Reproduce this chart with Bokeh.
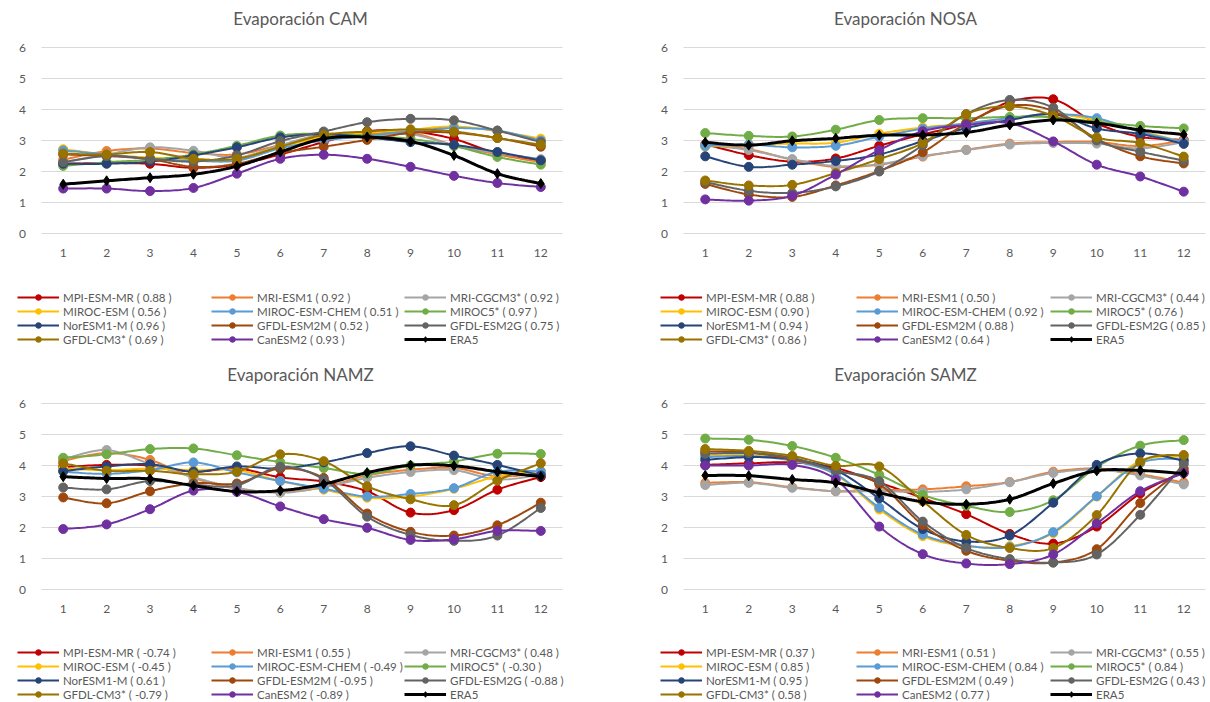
import numpy as np
from bokeh.plotting import figure
from bokeh.layouts import column, row
from bokeh.models import Legend, LegendItem, Range1d, Label
from bokeh.core.properties import value
from bokeh.embed import file_html
from bokeh.resources import INLINE

months = list(range(1, 13))
y_ticks = [0, 1, 2, 3, 4, 5, 6]

models = ["MPI-ESM-MR", "MRI-ESM1", "MRI-CGCM3*", "MIROC-ESM", "MIROC-ESM-CHEM", "MIROC5*",
          "NorESM1-M", "GFDL-ESM2M", "GFDL-ESM2G", "GFDL-CM3*", "CanESM2"]
model_colors = ["#C00000", "#ED7D31", "#A5A5A5", "#FFC000", "#5B9BD5", "#70AD47",
                "#264478", "#9E480E", "#636363", "#997300", "#7030A0"]

# Monthly evaporation per model (rows follow `models`), ERA5 reference and correlations
cam_models = [
    [2.25, 2.27, 2.25, 2.12, 2.22, 2.55, 2.95, 3.30, 3.30, 3.05, 2.58, 2.35],
    [2.38, 2.66, 2.74, 2.60, 2.55, 2.85, 3.10, 3.20, 3.25, 2.85, 2.55, 2.30],
    [2.30, 2.55, 2.78, 2.67, 2.45, 2.85, 3.20, 3.15, 3.20, 2.85, 2.60, 2.40],
    [2.72, 2.55, 2.45, 2.40, 2.40, 2.80, 3.10, 3.25, 3.35, 3.45, 3.30, 3.06],
    [2.68, 2.55, 2.40, 2.35, 2.35, 2.75, 3.00, 3.15, 3.30, 3.40, 3.32, 3.00],
    [2.18, 2.30, 2.38, 2.55, 2.83, 3.16, 3.22, 3.15, 3.05, 2.82, 2.47, 2.22],
    [2.25, 2.25, 2.32, 2.52, 2.78, 3.10, 3.20, 3.10, 2.95, 2.86, 2.63, 2.36],
    [2.55, 2.50, 2.40, 2.15, 2.25, 2.60, 2.80, 3.02, 3.25, 3.25, 3.08, 2.80],
    [2.30, 2.50, 2.41, 2.32, 2.52, 2.98, 3.29, 3.59, 3.70, 3.65, 3.32, 2.95],
    [2.58, 2.55, 2.63, 2.41, 2.41, 2.80, 3.18, 3.29, 3.36, 3.29, 3.08, 2.86],
    [1.45, 1.45, 1.37, 1.47, 1.93, 2.41, 2.54, 2.41, 2.15, 1.86, 1.63, 1.50],
]
cam_era5 = [1.59, 1.70, 1.80, 1.91, 2.17, 2.63, 3.06, 3.11, 2.97, 2.52, 1.93, 1.61]
cam_corr = [0.88, 0.92, 0.92, 0.56, 0.51, 0.97, 0.96, 0.52, 0.75, 0.69, 0.93]

nosa_models = [
    [2.88, 2.53, 2.32, 2.42, 2.83, 3.20, 3.55, 4.25, 4.33, 3.55, 3.12, 3.02],
    [2.85, 2.72, 2.38, 2.15, 2.22, 2.48, 2.70, 2.90, 2.95, 2.95, 2.82, 3.00],
    [2.87, 2.69, 2.40, 2.18, 2.24, 2.50, 2.69, 2.87, 2.92, 2.90, 2.75, 2.95],
    [2.80, 2.87, 2.90, 2.93, 3.22, 3.42, 3.55, 3.72, 3.85, 3.65, 3.30, 2.95],
    [2.82, 2.87, 2.78, 2.83, 3.12, 3.38, 3.55, 3.72, 3.85, 3.72, 3.28, 2.95],
    [3.24, 3.15, 3.13, 3.35, 3.66, 3.72, 3.72, 3.76, 3.75, 3.60, 3.47, 3.39],
    [2.49, 2.15, 2.22, 2.34, 2.55, 2.98, 3.40, 3.66, 3.85, 3.39, 3.21, 2.89],
    [1.60, 1.26, 1.18, 1.55, 2.02, 2.62, 3.55, 4.12, 3.95, 3.05, 2.49, 2.26],
    [1.66, 1.38, 1.31, 1.52, 2.00, 2.85, 3.85, 4.31, 4.06, 3.00, 2.64, 2.35],
    [1.71, 1.55, 1.57, 1.95, 2.40, 2.92, 3.85, 4.10, 3.80, 3.10, 2.92, 2.48],
    [1.10, 1.06, 1.22, 1.90, 2.69, 3.30, 3.50, 3.56, 2.97, 2.22, 1.84, 1.35],
]
nosa_era5 = [2.94, 2.85, 2.99, 3.07, 3.17, 3.18, 3.26, 3.50, 3.66, 3.56, 3.34, 3.19]
nosa_corr = [0.88, 0.50, 0.44, 0.90, 0.92, 0.76, 0.94, 0.88, 0.85, 0.86, 0.64]

namz_models = [
    [3.95, 4.02, 4.00, 3.80, 3.90, 3.62, 3.48, 3.17, 2.48, 2.56, 3.22, 3.63],
    [4.15, 4.40, 4.18, 3.60, 3.25, 3.15, 3.30, 3.68, 3.86, 3.92, 3.65, 3.75],
    [4.20, 4.50, 4.05, 3.62, 3.28, 3.12, 3.30, 3.60, 3.79, 3.85, 3.55, 3.70],
    [3.90, 3.85, 3.90, 3.85, 3.85, 3.50, 3.22, 2.96, 3.00, 3.25, 3.65, 3.82],
    [3.80, 3.73, 3.85, 4.10, 3.78, 3.50, 3.25, 3.00, 3.08, 3.27, 3.80, 3.81],
    [4.25, 4.36, 4.53, 4.55, 4.33, 4.11, 3.92, 3.73, 4.00, 4.13, 4.38, 4.37],
    [3.82, 3.97, 4.04, 3.80, 3.97, 3.90, 4.10, 4.40, 4.62, 4.32, 4.02, 3.68],
    [2.97, 2.78, 3.17, 3.43, 3.42, 3.90, 3.60, 2.45, 1.86, 1.74, 2.07, 2.80],
    [3.29, 3.23, 3.50, 3.38, 3.36, 3.96, 3.55, 2.35, 1.76, 1.57, 1.74, 2.63],
    [4.07, 3.83, 3.83, 3.72, 3.80, 4.36, 4.14, 3.33, 2.91, 2.72, 3.51, 4.07],
    [1.95, 2.10, 2.59, 3.19, 3.15, 2.68, 2.27, 1.99, 1.60, 1.62, 1.89, 1.89],
]
namz_era5 = [3.64, 3.58, 3.57, 3.35, 3.16, 3.19, 3.40, 3.77, 4.01, 3.99, 3.80, 3.64]
namz_corr = [-0.74, 0.55, 0.48, -0.45, -0.49, -0.30, 0.61, -0.95, -0.88, -0.79, -0.89]

samz_models = [
    [4.02, 4.07, 4.10, 3.92, 3.45, 2.95, 2.43, 1.79, 1.48, 2.03, 3.10, 3.80],
    [3.44, 3.46, 3.30, 3.17, 3.20, 3.23, 3.33, 3.47, 3.80, 3.90, 3.72, 3.45],
    [3.37, 3.44, 3.28, 3.17, 3.17, 3.15, 3.23, 3.46, 3.76, 3.87, 3.68, 3.39],
    [4.32, 4.33, 4.18, 3.70, 2.58, 1.72, 1.40, 1.40, 1.82, 3.00, 4.15, 4.30],
    [4.27, 4.30, 4.15, 3.72, 2.64, 1.77, 1.42, 1.37, 1.85, 3.01, 4.08, 4.22],
    [4.87, 4.83, 4.63, 4.25, 3.70, 3.05, 2.70, 2.50, 2.88, 3.95, 4.64, 4.82],
    [4.18, 4.27, 4.20, 3.85, 2.94, 1.95, 1.55, 1.74, 2.80, 4.02, 4.39, 4.15],
    [4.45, 4.42, 4.20, 3.85, 3.40, 2.08, 1.25, 0.93, 0.87, 1.30, 2.79, 3.90],
    [4.38, 4.40, 4.25, 3.83, 3.49, 2.19, 1.34, 0.98, 0.87, 1.13, 2.41, 4.05],
    [4.53, 4.47, 4.31, 3.99, 3.97, 2.85, 1.76, 1.34, 1.34, 2.40, 4.11, 4.34],
    [4.00, 4.00, 4.02, 3.55, 2.03, 1.14, 0.84, 0.82, 1.13, 2.13, 3.17, 3.75],
]
samz_era5 = [3.68, 3.67, 3.55, 3.44, 3.12, 2.83, 2.75, 2.91, 3.42, 3.83, 3.84, 3.74]
samz_corr = [0.37, 0.51, 0.55, 0.85, 0.84, 0.84, 0.95, 0.49, 0.43, 0.58, 0.77]

TEXT = "#595959"
GRID = "#D9D9D9"
FONT = "Lato"
ROW_H = 14
W = 605


def smooth_path(xs, ys, steps=16):
    """Bezier smoothing of a polyline (same control-point rule as spreadsheet smooth lines)."""
    xs = np.asarray(xs, float)
    ys = np.asarray(ys, float)
    px = np.concatenate([[xs[0]], xs, [xs[-1]]])
    py = np.concatenate([[ys[0]], ys, [ys[-1]]])
    t = np.linspace(0.0, 1.0, steps, endpoint=False)
    out_x, out_y = [], []
    for i in range(1, len(px) - 2):
        x0, x1, x2, x3 = px[i - 1], px[i], px[i + 1], px[i + 2]
        y0, y1, y2, y3 = py[i - 1], py[i], py[i + 1], py[i + 2]
        c1x, c1y = x1 + (x2 - x0) / 6.0, y1 + (y2 - y0) / 6.0
        c2x, c2y = x2 - (x3 - x1) / 6.0, y2 - (y3 - y1) / 6.0
        b0, b1, b2, b3 = (1 - t) ** 3, 3 * (1 - t) ** 2 * t, 3 * (1 - t) * t ** 2, t ** 3
        out_x.extend(b0 * x1 + b1 * c1x + b2 * c2x + b3 * x2)
        out_y.extend(b0 * y1 + b1 * c1y + b2 * c2y + b3 * y2)
    out_x.append(xs[-1])
    out_y.append(ys[-1])
    return out_x, out_y


def make_panel(title, series, era5, corr, box):
    """One chart panel. The frame covers the whole panel; `box` holds its pixel layout:
    plot area edges, tick-label rows, title row and legend columns."""
    H = box["height"]
    x_unit = (box["plot_right"] - box["plot_left"]) / 12.0
    y_unit = (box["y0"] - box["y6"]) / 6.0
    x_start = 0.5 - box["plot_left"] / x_unit
    x_end = 12.5 + (W - box["plot_right"]) / x_unit
    y_end = 6 + box["y6"] / y_unit
    y_start = -(H - box["y0"]) / y_unit

    def x_at(px):
        return x_start + px / x_unit

    def y_at(py):
        return y_end - py / y_unit

    p = figure(width=W, height=H, x_range=Range1d(x_start, x_end), y_range=Range1d(y_start, y_end),
               output_backend="svg", toolbar_location=None, title=None,
               x_axis_type=None, y_axis_type=None,
               min_border_left=0, min_border_right=0, min_border_top=0, min_border_bottom=0)
    p.outline_line_color = None
    p.xgrid.visible = False
    p.ygrid.visible = False

    # horizontal gridlines across the plot area (months 0.5 .. 12.5)
    p.segment(x0=[0.5] * len(y_ticks), x1=[12.5] * len(y_ticks), y0=y_ticks, y1=y_ticks,
              line_color=GRID, line_width=1)
    # tick labels
    p.text(x=[x_at(box["ylab_x"])] * len(y_ticks), y=y_ticks, text=[str(t) for t in y_ticks],
           text_font=value(FONT), text_font_size=value("12px"), text_color=TEXT,
           text_align="center", text_baseline="middle")
    p.text(x=months, y=[y_at(box["xlab_y"])] * len(months), text=[str(m) for m in months],
           text_font=value(FONT), text_font_size=value("12px"), text_color=TEXT,
           text_align="center", text_baseline="middle")
    # title
    p.add_layout(Label(x=300, y=H - box["title_y"], x_units="screen", y_units="screen",
                       text=title, text_align="center", text_baseline="middle",
                       text_font=FONT, text_font_size="17px", text_color=TEXT))

    items = []
    for name, vals, color, r in zip(models, series, model_colors, corr):
        sx, sy = smooth_path(months, vals)
        lr = p.line(sx, sy, line_color=color, line_width=2)
        mr = p.scatter(months, vals, marker="circle", size=9, fill_color=color, line_color=color)
        items.append(LegendItem(label=f"{name} ( {r:.2f} )", renderers=[lr, mr]))
    sx, sy = smooth_path(months, era5)
    lr = p.line(sx, sy, line_color="black", line_width=3)
    mr = p.scatter(months, era5, marker="diamond", size=10,
                   fill_color="black", line_color="black")
    items.append(LegendItem(label="ERA5", renderers=[lr, mr]))

    # key: three columns of four entries, read across the rows
    legend_h = 4 * ROW_H
    key_top = box["key_row"] - ROW_H / 2
    for c in range(3):
        lg = Legend(items=items[c::3], location=(box["key_cols"][c], H - key_top - legend_h),
                    orientation="vertical",
                    glyph_width=42, glyph_height=ROW_H, label_height=ROW_H,
                    label_standoff=4, spacing=0, padding=0, margin=0,
                    label_text_font=FONT, label_text_font_size="11.5px",
                    label_text_color=TEXT, label_text_baseline="middle",
                    border_line_color=None, background_fill_alpha=0)
        p.add_layout(lg)
    return p


upper_left = dict(height=352, plot_left=41, plot_right=562, y6=47, y0=233, ylab_x=22,
                  xlab_y=252, title_y=18, key_cols=[17, 211, 404], key_row=297)
upper_right = dict(upper_left, plot_left=78, plot_right=600, ylab_x=59, key_cols=[55, 251, 445])
lower_left = dict(upper_left, height=350, y6=51, y0=237, xlab_y=256, title_y=22, key_row=300)
lower_right = dict(lower_left, plot_left=78, plot_right=600, ylab_x=59, key_cols=[55, 251, 445])

p_cam = make_panel("Evaporación CAM", cam_models, cam_era5, cam_corr, upper_left)
p_nosa = make_panel("Evaporación NOSA", nosa_models, nosa_era5, nosa_corr, upper_right)
p_namz = make_panel("Evaporación NAMZ", namz_models, namz_era5, namz_corr, lower_left)
p_samz = make_panel("Evaporación SAMZ", samz_models, samz_era5, samz_corr, lower_right)

layout = column(row(p_cam, p_nosa, spacing=0), row(p_namz, p_samz, spacing=0), spacing=0)

open("out.html", "w").write(file_html(layout, INLINE))
